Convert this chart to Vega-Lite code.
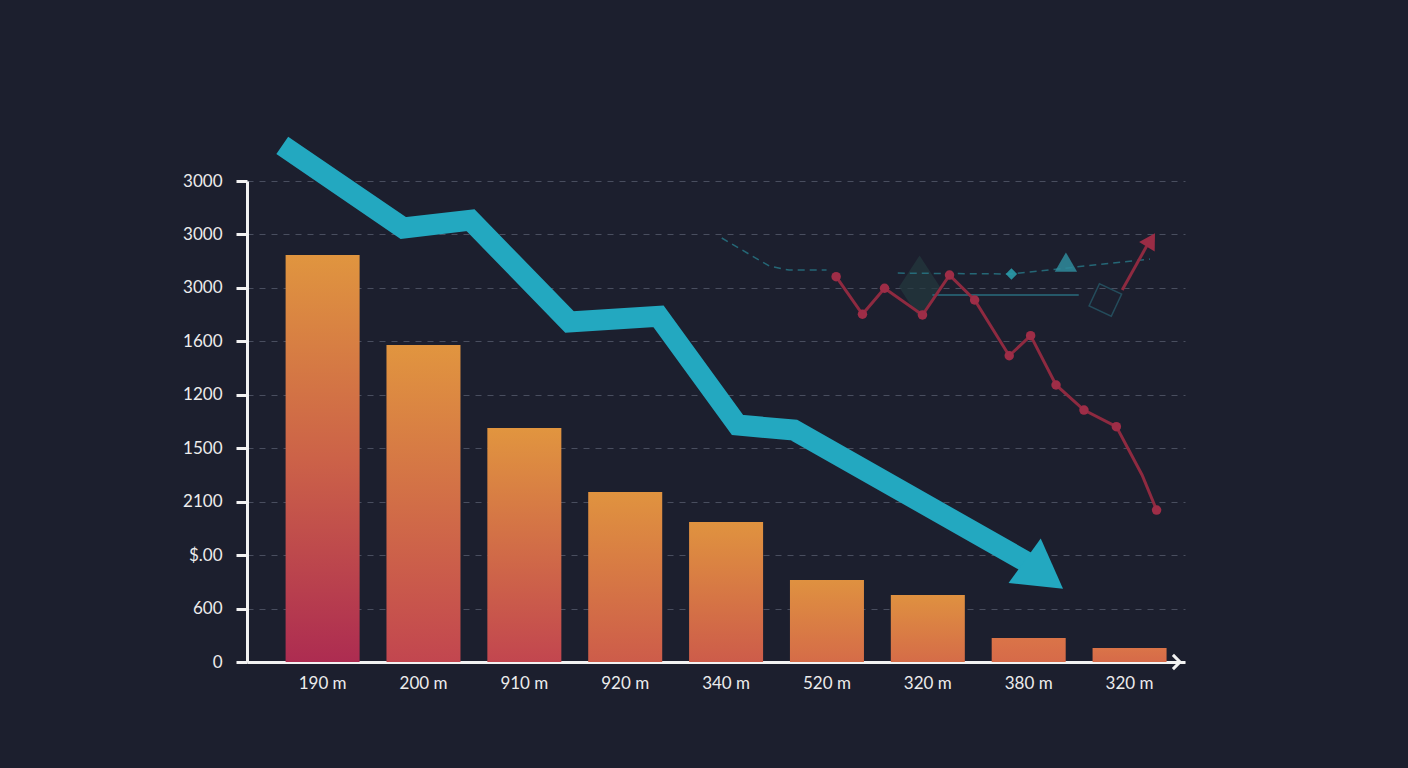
{
  "$schema": "https://vega.github.io/schema/vega-lite/v6.json",
  "width": 938,
  "height": 481,
  "autosize": {"type": "none"},
  "padding": {"left": 247, "top": 181, "right": 223, "bottom": 106},
  "background": "#1c1f2e",
  "config": {
    "view": {"stroke": null},
    "font": "Lato",
    "axisX": {
      "labels": false,
      "ticks": false,
      "grid": false,
      "title": null,
      "domainColor": "#f2f2f2",
      "domainWidth": 3
    },
    "axisY": {
      "title": null,
      "domainColor": "#f2f2f2",
      "domainWidth": 3,
      "tickColor": "#f2f2f2",
      "tickWidth": 3,
      "tickSize": 11,
      "labelPadding": 14,
      "labelColor": "#ececec",
      "labelFontSize": 17,
      "labelFont": "Lato",
      "grid": true,
      "gridColor": "#555a6b",
      "gridDash": [6, 6],
      "gridWidth": 1,
      "gridOpacity": 0.8
    }
  },
  "datasets": {
    "bars": [
      {"i": 1, "label": "190 m", "value": 2285},
      {"i": 2, "label": "200 m", "value": 1779},
      {"i": 3, "label": "910 m", "value": 1313},
      {"i": 4, "label": "920 m", "value": 954},
      {"i": 5, "label": "340 m", "value": 786},
      {"i": 6, "label": "520 m", "value": 460},
      {"i": 7, "label": "320 m", "value": 376},
      {"i": 8, "label": "380 m", "value": 135},
      {"i": 9, "label": "320 m", "value": 79}
    ],
    "trend": [
      {"x": 0.6, "y": 2900},
      {"x": 1.8, "y": 2436},
      {"x": 2.467, "y": 2480},
      {"x": 3.447, "y": 1909},
      {"x": 4.33, "y": 1940},
      {"x": 5.114, "y": 1330},
      {"x": 5.673, "y": 1302},
      {"x": 7.98, "y": 561}
    ],
    "trendHead": [{"x": 8.15, "y": 490}],
    "red": [
      {"x": 6.091, "y": 2163, "kind": "vertex"},
      {"x": 6.352, "y": 1952, "kind": "vertex"},
      {"x": 6.571, "y": 2098, "kind": "vertex"},
      {"x": 6.947, "y": 1948, "kind": "vertex"},
      {"x": 7.215, "y": 2172, "kind": "vertex"},
      {"x": 7.464, "y": 2032, "kind": "vertex"},
      {"x": 7.807, "y": 1719, "kind": "vertex"},
      {"x": 8.019, "y": 1832, "kind": "vertex"},
      {"x": 8.271, "y": 1555, "kind": "vertex"},
      {"x": 8.548, "y": 1414, "kind": "vertex"},
      {"x": 8.869, "y": 1321, "kind": "vertex"},
      {"x": 9.124, "y": 1050, "kind": "bend"},
      {"x": 9.268, "y": 853, "kind": "vertex"}
    ],
    "redArrow": [
      {"x": 8.927, "y": 2088},
      {"x": 9.17, "y": 2335}
    ],
    "redHead": [{"x": 9.212, "y": 2369}],
    "ghostDashed": [
      {"s": "a", "x": 4.957, "y": 2380},
      {"s": "a", "x": 5.427, "y": 2223},
      {"s": "a", "x": 5.624, "y": 2200},
      {"s": "a", "x": 5.996, "y": 2200},
      {"s": "b", "x": 6.702, "y": 2183},
      {"s": "b", "x": 7.829, "y": 2178},
      {"s": "b", "x": 9.202, "y": 2262}
    ],
    "ghostSolid": [
      {"x": 7.045, "y": 2060},
      {"x": 8.496, "y": 2060}
    ],
    "ghostTri": [{"x": 8.369, "y": 2245}],
    "ghostDot": [{"x": 7.829, "y": 2178}],
    "ghostBig": [{"x": 6.918, "y": 2105}],
    "ghostBox": [{"x": 8.76, "y": 2032}],
    "axisEnd": [{"x": 9.5, "y": 0}]
  },
  "layer": [
    {
      "data": {"name": "bars"},
      "transform": [{"filter": "datum.i == 1"}],
      "mark": {"type": "bar", "width": 74, "fill": {"gradient": "linear", "x1": 0, "y1": 0, "x2": 0, "y2": 1, "stops": [{"offset": 0, "color": "#e0953f"}, {"offset": 0.5, "color": "#cc6248"}, {"offset": 1, "color": "#ad2c51"}]}},
      "encoding": {
        "x": {"field": "i", "type": "quantitative", "scale": {"domain": [0.3, 9.5], "nice": false, "zero": false}},
        "y": {
          "field": "value",
          "type": "quantitative",
          "scale": {"domain": [0, 2700], "nice": false},
          "axis": {
            "values": [0, 300, 600, 900, 1200, 1500, 1800, 2100, 2400, 2700],
            "labelExpr": "['0','600','$.00','2100','1500','1200','1600','3000','3000','3000'][round(datum.value / 300)]"
          }
        }
      }
    },
    {
      "data": {"name": "bars"},
      "transform": [{"filter": "datum.i == 2 || datum.i == 3"}],
      "mark": {"type": "bar", "width": 74, "fill": {"gradient": "linear", "x1": 0, "y1": 0, "x2": 0, "y2": 1, "stops": [{"offset": 0, "color": "#e1953f"}, {"offset": 1, "color": "#c2464f"}]}},
      "encoding": {"x": {"field": "i", "type": "quantitative"}, "y": {"field": "value", "type": "quantitative"}}
    },
    {
      "data": {"name": "bars"},
      "transform": [{"filter": "datum.i == 4 || datum.i == 5"}],
      "mark": {"type": "bar", "width": 74, "fill": {"gradient": "linear", "x1": 0, "y1": 0, "x2": 0, "y2": 1, "stops": [{"offset": 0, "color": "#e0933f"}, {"offset": 1, "color": "#cd5c4a"}]}},
      "encoding": {"x": {"field": "i", "type": "quantitative"}, "y": {"field": "value", "type": "quantitative"}}
    },
    {
      "data": {"name": "bars"},
      "transform": [{"filter": "datum.i == 6 || datum.i == 7"}],
      "mark": {"type": "bar", "width": 74, "fill": {"gradient": "linear", "x1": 0, "y1": 0, "x2": 0, "y2": 1, "stops": [{"offset": 0, "color": "#df9140"}, {"offset": 1, "color": "#d56c48"}]}},
      "encoding": {"x": {"field": "i", "type": "quantitative"}, "y": {"field": "value", "type": "quantitative"}}
    },
    {
      "data": {"name": "bars"},
      "transform": [{"filter": "datum.i >= 8"}],
      "mark": {"type": "bar", "width": 74, "fill": {"gradient": "linear", "x1": 0, "y1": 0, "x2": 0, "y2": 1, "stops": [{"offset": 0, "color": "#da7448"}, {"offset": 1, "color": "#d66a49"}]}},
      "encoding": {"x": {"field": "i", "type": "quantitative"}, "y": {"field": "value", "type": "quantitative"}}
    },
    {
      "data": {"name": "bars"},
      "mark": {"type": "text", "dy": 22, "baseline": "middle", "align": "center", "color": "#ececec", "fontSize": 17, "font": "Lato"},
      "encoding": {"x": {"field": "i", "type": "quantitative"}, "y": {"datum": 0, "type": "quantitative"}, "text": {"field": "label"}}
    },
    {
      "data": {"name": "axisEnd"},
      "mark": {"type": "point", "shape": "M-1,-1L0,0L-1,1", "filled": false, "stroke": "#f2f2f2", "strokeWidth": 3, "size": 200, "opacity": 1},
      "encoding": {"x": {"field": "x", "type": "quantitative"}, "y": {"field": "y", "type": "quantitative"}}
    },
    {
      "data": {"name": "ghostBig"},
      "mark": {"type": "point", "shape": "M-0.65,0L0,-1L0.65,0L0,1Z", "filled": true, "fill": "#23393f", "size": 4000, "opacity": 0.7},
      "encoding": {"x": {"field": "x", "type": "quantitative"}, "y": {"field": "y", "type": "quantitative"}}
    },
    {
      "data": {"name": "ghostDashed"},
      "mark": {"type": "line", "stroke": "#2a8696", "strokeWidth": 1.5, "strokeDash": [7, 5], "opacity": 0.7},
      "encoding": {"x": {"field": "x", "type": "quantitative"}, "y": {"field": "y", "type": "quantitative"}, "detail": {"field": "s"}}
    },
    {
      "data": {"name": "ghostSolid"},
      "mark": {"type": "line", "stroke": "#2e8da0", "strokeWidth": 1.5, "opacity": 0.7},
      "encoding": {"x": {"field": "x", "type": "quantitative"}, "y": {"field": "y", "type": "quantitative"}}
    },
    {
      "data": {"name": "ghostBox"},
      "mark": {"type": "point", "shape": "square", "angle": 25, "filled": false, "stroke": "#2a6a7a", "strokeWidth": 1.5, "size": 600, "opacity": 0.6},
      "encoding": {"x": {"field": "x", "type": "quantitative"}, "y": {"field": "y", "type": "quantitative"}}
    },
    {
      "data": {"name": "ghostTri"},
      "mark": {"type": "point", "shape": "triangle-up", "filled": true, "fill": "#2f8c9c", "size": 500, "opacity": 0.85},
      "encoding": {"x": {"field": "x", "type": "quantitative"}, "y": {"field": "y", "type": "quantitative"}}
    },
    {
      "data": {"name": "ghostDot"},
      "mark": {"type": "point", "shape": "diamond", "filled": true, "fill": "#2a9aa8", "size": 130, "opacity": 0.9},
      "encoding": {"x": {"field": "x", "type": "quantitative"}, "y": {"field": "y", "type": "quantitative"}}
    },
    {
      "data": {"name": "red"},
      "mark": {"type": "line", "stroke": "#8e2a40", "strokeWidth": 3},
      "encoding": {"x": {"field": "x", "type": "quantitative"}, "y": {"field": "y", "type": "quantitative"}}
    },
    {
      "data": {"name": "red"},
      "transform": [{"filter": "datum.kind == 'vertex'"}],
      "mark": {"type": "point", "shape": "circle", "filled": true, "fill": "#9e2d47", "size": 90, "opacity": 1},
      "encoding": {"x": {"field": "x", "type": "quantitative"}, "y": {"field": "y", "type": "quantitative"}}
    },
    {
      "data": {"name": "redArrow"},
      "mark": {"type": "line", "stroke": "#8e2a40", "strokeWidth": 3},
      "encoding": {"x": {"field": "x", "type": "quantitative"}, "y": {"field": "y", "type": "quantitative"}}
    },
    {
      "data": {"name": "redHead"},
      "mark": {"type": "point", "shape": "triangle-up", "angle": 31, "filled": true, "fill": "#9a2c45", "size": 330, "opacity": 1},
      "encoding": {"x": {"field": "x", "type": "quantitative"}, "y": {"field": "y", "type": "quantitative"}}
    },
    {
      "data": {"name": "trend"},
      "mark": {"type": "line", "stroke": "#23a8c0", "strokeWidth": 21, "strokeJoin": "miter", "strokeCap": "butt"},
      "encoding": {"x": {"field": "x", "type": "quantitative"}, "y": {"field": "y", "type": "quantitative"}}
    },
    {
      "data": {"name": "trendHead"},
      "mark": {"type": "point", "shape": "triangle-up", "angle": 126, "filled": true, "fill": "#23a8c0", "size": 3000, "opacity": 1},
      "encoding": {"x": {"field": "x", "type": "quantitative"}, "y": {"field": "y", "type": "quantitative"}}
    }
  ]
}
